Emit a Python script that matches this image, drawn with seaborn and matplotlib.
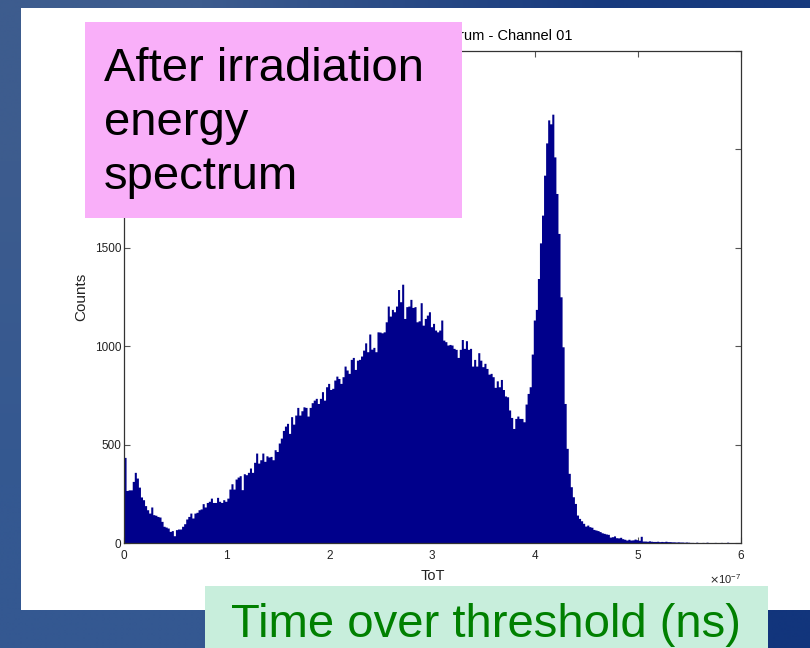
import numpy as np
import pandas as pd
import matplotlib
matplotlib.use("Agg")
import matplotlib.pyplot as plt
import seaborn as sns
from matplotlib.patches import Rectangle
from matplotlib.ticker import ScalarFormatter, MultipleLocator
from matplotlib.colors import to_rgb

# ---- histogram counts (bin width 0.02e-7 s, from 0) ----
counts_low = [435, 267, 270, 270, 313, 359, 330, 284, 234, 220,
              190, 169, 152, 183, 144, 141, 135, 132, 110, 85,
              81, 76, 59, 63, 37, 68, 71, 71, 85, 98,
              122, 135, 152, 127, 152, 156, 169, 173, 200, 183,
              206, 212, 228, 206, 206, 232, 212, 206, 220, 212,
              228, 274, 301, 274, 325, 335, 342, 271, 352, 347,
              359, 381, 359, 410, 457, 406, 423, 457, 415, 443,
              437, 440, 423, 474, 465, 508, 533, 572]
counts_rise = [594, 608, 557, 642, 604, 650, 689, 650, 672, 692,
               689, 645, 689, 713, 726, 735, 709, 735, 769, 726,
               794, 811, 780, 786, 828, 848, 836, 811, 845, 899,
               879, 862, 933, 943, 882, 929, 933, 950, 980, 1017,
               972, 1062, 985, 994, 972, 1073, 1072, 1068, 1073, 1124,
               1204, 1153, 1187, 1175, 1204, 1288, 1226, 1315, 1141, 1201,
               1204, 1238, 1197, 1201, 1124, 1129, 1221, 1107, 1141, 1158,
               1175, 1099, 1116, 1082, 1073]
counts_dip = [1082, 1133, 1031, 1023, 1006, 1009, 1006, 989, 984, 943,
              984, 1034, 989, 1028, 984, 989, 899, 933, 899, 967,
              929, 896, 913, 887, 858, 862, 845, 791, 824, 794,
              831, 780, 747, 743, 676, 638, 582, 633, 645, 633,
              633, 616, 706, 760, 794]
counts_peak = [960, 1133, 1187, 1344, 1525, 1666, 1869, 2033, 2150, 2130,
               2179, 1962, 1776, 1573, 1251, 997, 709, 481, 354, 286,
               235, 201, 142, 125, 113, 100, 86, 91, 83, 80,
               69, 66, 63, 58, 52, 49]
counts_tail = [46, 44, 30, 32, 36, 27, 26, 29, 22, 19,
               15, 19, 15, 16, 20, 17, 14, 34, 10, 10,
               9, 11, 9, 8, 8, 9, 7, 8, 7, 9,
               7, 7, 6, 6, 5, 6, 5, 5, 4, 5,
               4, 3, 3, 2, 4, 2, 2, 3, 2, 4,
               2, 1, 2, 3, 1, 2, 3, 2, 1, 4,
               1, 2, 1, 0, 0, 0]

bin_width = 0.02e-7
title_text = "Time Over Threshold Spectrum - Channel 01"
x_label = "ToT"
y_label = "Counts"
box_lines = ["After irradiation", "energy", "spectrum"]
footer_text = "Time over threshold (ns)"
y_ticks = [0, 500, 1000, 1500, 2000, 2500]
# the 2000 and 2500 labels sit behind the pink box in the reference
y_tick_labels = ["0", "500", "1000", "1500", "", ""]

counts = counts_low + counts_rise + counts_dip + counts_peak + counts_tail
n_bins = len(counts)
centers = (np.arange(n_bins) + 0.5) * bin_width
df = pd.DataFrame({"ToT": centers, "Counts": np.array(counts, dtype=float)})

sns.set_theme(style="white")
plt.rcParams['font.family'] = ['Liberation Sans', 'DejaVu Sans']

W, H = 810, 648
fig = plt.figure(figsize=(W / 100, H / 100), dpi=100)

# ---- slide background (blue gradient + white panel) ----
bg = fig.add_axes([0, 0, 1, 1], zorder=-5)
bg.set_axis_off()
tl, tr = np.array(to_rgb("#3d5c8e")), np.array(to_rgb("#173a7e"))
bl, br = np.array(to_rgb("#345891")), np.array(to_rgb("#12357c"))
grad = np.zeros((2, 2, 3))
grad[0, 0], grad[0, 1], grad[1, 0], grad[1, 1] = tl, tr, bl, br
bg.imshow(grad, extent=[0, W, H, 0], interpolation="bilinear", aspect="auto")
bg.add_patch(Rectangle((21, 8), W - 21, 602, facecolor="white", edgecolor="none"))
bg.set_xlim(0, W)
bg.set_ylim(H, 0)

# ---- main histogram ----
ax = fig.add_axes([124 / W, 1 - 543 / H, (741 - 124) / W, (543 - 51) / H])
sns.histplot(data=df, x="ToT", weights="Counts", binwidth=bin_width,
             binrange=(0, n_bins * bin_width), element="step",
             fill=True, color="#00008B", alpha=1, linewidth=0, ax=ax)
ax.set_xlim(0, 6e-7)
ax.set_ylim(0, 2500)
ax.xaxis.set_major_locator(MultipleLocator(1e-7))
ax.set_yticks(y_ticks)
ax.set_yticklabels(y_tick_labels)
fmt = ScalarFormatter(useMathText=True)
ax.xaxis.set_major_formatter(fmt)
ax.set_facecolor("white")
for s in ax.spines.values():
    s.set_visible(True)
    s.set_color("#333333")
    s.set_linewidth(0.9)
ax.tick_params(axis="both", which="major", direction="in", length=4.5, width=0.8,
               color="#555555", labelsize=8.5, labelcolor="#222222",
               top=True, right=True, bottom=True, left=True)
ax.tick_params(axis="x", pad=4.5)
ax.tick_params(axis="y", pad=2)
ax.xaxis.OFFSETTEXTPAD = 7
ax.xaxis.get_offset_text().set_fontsize(8)
ax.xaxis.get_offset_text().set_color("#222222")
ax.set_xlabel(x_label, fontsize=10.5, color="#222222", labelpad=5)
ax.set_ylabel(y_label, fontsize=11, color="#222222", labelpad=5)
ax.set_title(title_text, fontsize=10.5, color="black", pad=8)
ax.title.set_horizontalalignment("right")
ax.title.set_x((572 - 124) / (741 - 124))

# ---- overlay boxes ----
fig.add_artist(Rectangle((85 / W, 1 - 218 / H), (462 - 85) / W, (218 - 22) / H,
                         transform=fig.transFigure, facecolor="#F9AFF9",
                         edgecolor="none", zorder=5))
for txt, yb in zip(box_lines, [81, 135, 189]):
    fig.text(104 / W, 1 - yb / H, txt, fontsize=34, family=["Liberation Sans", "DejaVu Sans"],
             color="black", va="baseline", ha="left", zorder=6)

fig.add_artist(Rectangle((205 / W, 0), (768 - 205) / W, (H - 586) / H,
                         transform=fig.transFigure, facecolor="#C8EEDC",
                         edgecolor="none", zorder=5))
fig.text(486 / W, 1 - 637 / H, footer_text, fontsize=34, family=["Liberation Sans", "DejaVu Sans"],
         color="#008000", va="baseline", ha="center", zorder=6)

fig.savefig("out.png", dpi=100)
